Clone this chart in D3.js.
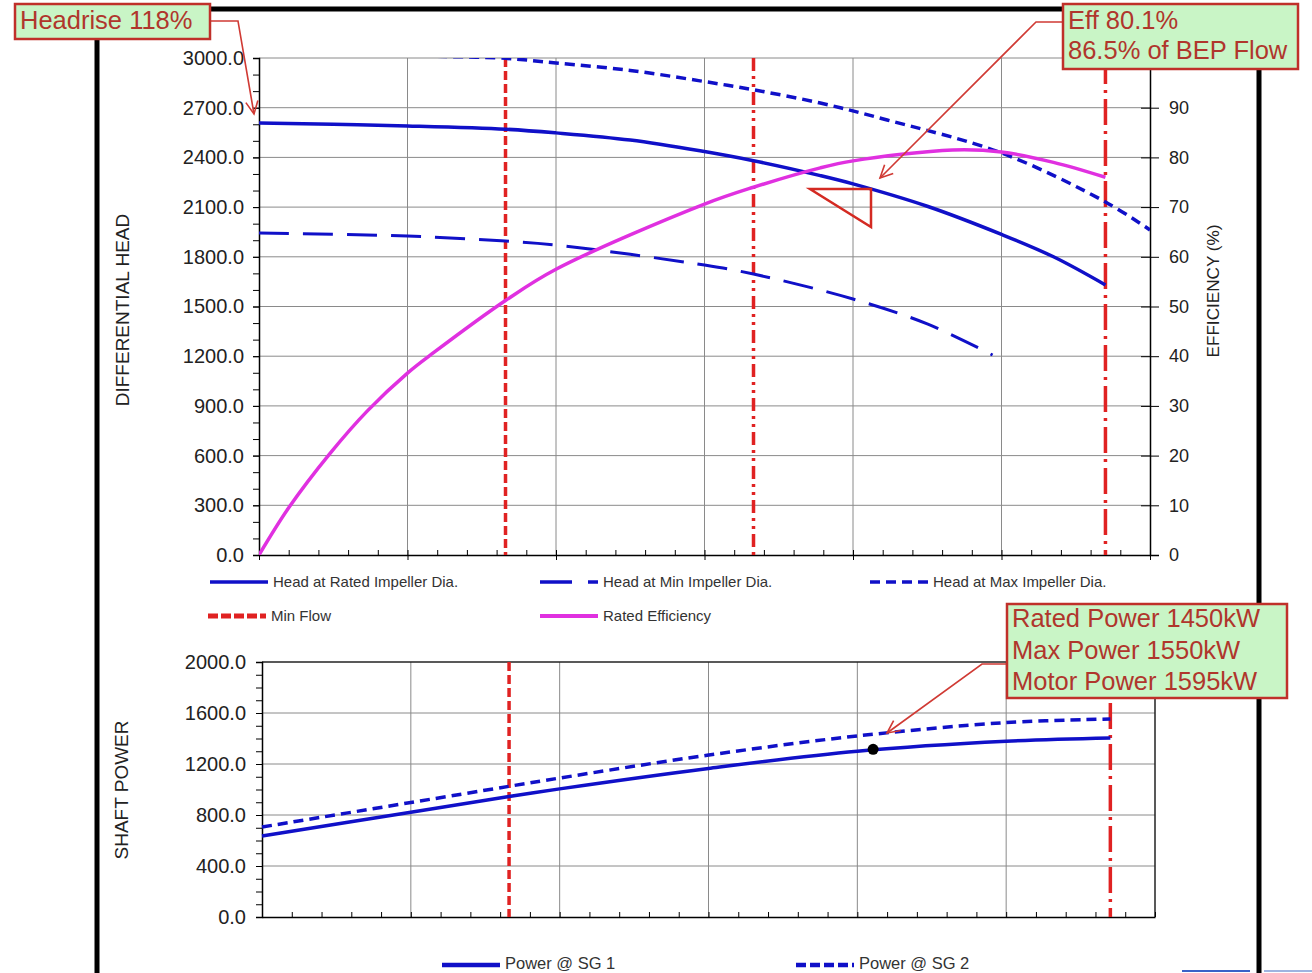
<!DOCTYPE html>
<html><head><meta charset="utf-8">
<script src="https://cdn.jsdelivr.net/npm/d3@7"></script>
<style>html,body{margin:0;padding:0;background:#fff;overflow:hidden}svg{display:block}text{font-family:"Liberation Sans",Arial,sans-serif}</style>
</head><body>
<svg id="c" width="1312" height="973"></svg>
<script>
// ---------- data ----------
const flowGrid = [0, 100, 200, 300, 400, 500, 600];
const headTicks = [0, 300, 600, 900, 1200, 1500, 1800, 2100, 2400, 2700, 3000];
const effTicks = [0, 10, 20, 30, 40, 50, 60, 70, 80, 90];
const powerTicks = [0, 400, 800, 1200, 1600, 2000];

const qRated = [0, 50, 100, 166, 200, 250, 297, 333, 378, 400, 450, 500, 535, 570];
const headRated = [2608, 2600, 2590, 2570, 2548, 2505, 2440, 2380, 2290, 2240, 2105, 1935, 1800, 1630];

const qMin = [0, 100, 166, 200, 300, 333, 400, 450, 494];
const headMin = [1944, 1925, 1895, 1871, 1750, 1696, 1545, 1395, 1207];

const qMax = [120, 166, 200, 250, 297, 333, 378, 423, 500, 570, 600];
const headMax = [3010, 2998, 2970, 2925, 2862, 2808, 2728, 2626, 2427, 2131, 1962];

const qEff = [0, 20, 48, 73, 100, 118, 166, 200, 300, 333, 378, 400, 467, 500, 535, 570];
const effRated = [0, 9.5, 20.5, 29, 36.6, 40.8, 51.2, 57.5, 70.6, 74.0, 77.9, 79.3, 81.5, 81.1, 79, 76];

const qPow = [0, 100, 166, 200, 300, 400, 500, 570];
const powerSG1 = [635, 822, 945, 1005, 1165, 1300, 1378, 1404];
const powerSG2 = [706, 898, 1025, 1090, 1270, 1420, 1525, 1553];
const ratedPoint = {q: 410.6, p: 1315};

const minFlowQ = 166, ratedQ = 333, endQ = 570;

const legendTop = ["Head at Rated Impeller Dia.", "Head at Min Impeller Dia.", "Head at Max Impeller Dia.", "Min Flow", "Rated Efficiency"];
const legendBottom = ["Power @ SG 1", "Power @ SG 2"];
const noteHead = ["Headrise 118%"];
const noteEff = ["Eff 80.1%", "86.5% of BEP Flow"];
const notePower = ["Rated Power 1450kW", "Max Power 1550kW", "Motor Power 1595kW"];

// ---------- styles ----------
const BLUE = "#1010c8", MAG = "#e030e0", RED = "#e02222", GRID = "#8a8a8a";
const BOXFILL = "#c9f5c6", BOXSTROKE = "#c0302a", NOTE = "#b0362c";

const svg = d3.select("#c");
const zip = (a, b) => a.map((v, i) => [v, b[i]]);
const CURVE = d3.curveCatmullRom.alpha(0.5);

// frame
svg.append("path").attr("d", "M97,973 L97,9 L1259,9 L1259,973").attr("fill", "none")
  .attr("stroke", "#000").attr("stroke-width", 5);

// ---------- top chart ----------
const xT = d3.scaleLinear([0, 600], [259, 1150]);
const yH = d3.scaleLinear([0, 3000], [555, 58]);
const yE = d3.scaleLinear([0, 100], [555, 58]);

const gTop = svg.append("g");
gTop.append("clipPath").attr("id", "clipTop").append("rect")
  .attr("x", 259).attr("y", 58).attr("width", 891).attr("height", 497);

gTop.selectAll(".hg").data(headTicks.slice(1)).join("line")
  .attr("x1", 259).attr("x2", 1150).attr("y1", d => yH(d)).attr("y2", d => yH(d))
  .attr("stroke", GRID).attr("stroke-width", 1);
gTop.selectAll(".vg").data(flowGrid.slice(1, -1)).join("line")
  .attr("x1", d => xT(d)).attr("x2", d => xT(d)).attr("y1", 58).attr("y2", 555)
  .attr("stroke", GRID).attr("stroke-width", 1);

const gL = gTop.append("g").attr("transform", "translate(259,0)")
  .call(d3.axisLeft(yH).tickValues(headTicks).tickFormat(d3.format(".1f")).tickSize(6).tickPadding(9));
gL.select(".domain").attr("stroke", "#000").attr("stroke-width", 1.5);
gL.selectAll("text").attr("font-size", 20).attr("fill", "#222");
gTop.append("g").attr("transform", "translate(259,0)")
  .call(d3.axisLeft(yH).tickValues(d3.range(0, 3001, 100)).tickFormat("").tickSize(6)).select(".domain").remove();

const gB = gTop.append("g").attr("transform", "translate(0,555)")
  .call(d3.axisBottom(xT).tickValues(d3.range(0, 601, 20)).tickFormat("").tickSizeInner(-5).tickSizeOuter(0));
gB.select(".domain").attr("stroke", "#000").attr("stroke-width", 1.5);
gTop.append("g").attr("transform", "translate(0,555)")
  .call(d3.axisBottom(xT).tickValues(flowGrid).tickFormat("").tickSize(5)).select(".domain").remove();

const gR = gTop.append("g").attr("transform", "translate(1150,0)")
  .call(d3.axisRight(yE).tickValues(effTicks).tickSize(9).tickPadding(10));
gR.select(".domain").attr("stroke", "#000").attr("stroke-width", 1.5);
gR.selectAll("text").attr("font-size", 18).attr("fill", "#222");
gR.selectAll(".tick line").attr("x1", -9);

const lineH = d3.line().x(d => xT(d[0])).y(d => yH(d[1])).curve(CURVE);
const lineE = d3.line().x(d => xT(d[0])).y(d => yE(d[1])).curve(CURVE);

const curves = gTop.append("g").attr("clip-path", "url(#clipTop)");

[{q: minFlowQ, dash: "9,4"}, {q: ratedQ, dash: "13,5,3,5,3,5"}, {q: endQ, dash: "26,6,3,6"}].forEach(v => {
  curves.append("line").attr("x1", xT(v.q)).attr("x2", xT(v.q)).attr("y1", 58).attr("y2", 555)
    .attr("stroke", RED).attr("stroke-width", 3.5).attr("stroke-dasharray", v.dash);
});

curves.append("path").attr("d", lineH(zip(qMin, headMin))).attr("fill", "none")
  .attr("stroke", BLUE).attr("stroke-width", 3).attr("stroke-dasharray", "30,14");
curves.append("path").attr("d", lineH(zip(qMax, headMax))).attr("fill", "none")
  .attr("stroke", BLUE).attr("stroke-width", 3.5).attr("stroke-dasharray", "10,6");
curves.append("path").attr("d", lineH(zip(qRated, headRated))).attr("fill", "none")
  .attr("stroke", BLUE).attr("stroke-width", 3.5);
curves.append("path").attr("d", lineE(zip(qEff, effRated))).attr("fill", "none")
  .attr("stroke", MAG).attr("stroke-width", 3.5);

gTop.append("path").attr("d", "M810,189 L871,189 L871,227 Z").attr("fill", "none")
  .attr("stroke", "#d42a22").attr("stroke-width", 2.5);

svg.append("text").attr("transform", "translate(129,310) rotate(-90)").attr("text-anchor", "middle")
  .attr("font-size", 19).attr("fill", "#222").text("DIFFERENTIAL HEAD");
svg.append("text").attr("transform", "translate(1219,291) rotate(-90)").attr("text-anchor", "middle")
  .attr("font-size", 16).attr("textLength", 133).attr("lengthAdjust", "spacingAndGlyphs")
  .attr("fill", "#222").text("EFFICIENCY (%)");

const legItems = [
  {x: 210, y: 582, dash: null, c: BLUE, t: legendTop[0], w: 3.5},
  {x: 540, y: 582, dash: "32,16,10", c: BLUE, t: legendTop[1], w: 3.5},
  {x: 870, y: 582, dash: "10,6", c: BLUE, t: legendTop[2], w: 3.5},
  {x: 208, y: 616, dash: "10,3", c: RED, t: legendTop[3], w: 5},
  {x: 540, y: 616, dash: null, c: MAG, t: legendTop[4], w: 4}
];
legItems.forEach(l => {
  svg.append("line").attr("x1", l.x).attr("x2", l.x + 58).attr("y1", l.y).attr("y2", l.y)
    .attr("stroke", l.c).attr("stroke-width", l.w).attr("stroke-dasharray", l.dash);
  svg.append("text").attr("x", l.x + 63).attr("y", l.y + 5).attr("font-size", 15).attr("fill", "#333").text(l.t);
});

// ---------- bottom chart ----------
const xB = d3.scaleLinear([0, 600], [262, 1155]);
const yP = d3.scaleLinear([0, 2000], [917, 662]);
const bot = svg.append("g");

bot.selectAll(".hg").data(powerTicks.slice(1, -1)).join("line")
  .attr("x1", 262).attr("x2", 1155).attr("y1", d => yP(d)).attr("y2", d => yP(d))
  .attr("stroke", GRID).attr("stroke-width", 1);
bot.selectAll(".vg").data(flowGrid.slice(1, -1)).join("line")
  .attr("x1", d => xB(d)).attr("x2", d => xB(d)).attr("y1", 662).attr("y2", 917)
  .attr("stroke", GRID).attr("stroke-width", 1);
bot.append("line").attr("x1", 262).attr("x2", 1155).attr("y1", 662).attr("y2", 662).attr("stroke", "#222").attr("stroke-width", 1.5);
bot.append("line").attr("x1", 1155).attr("x2", 1155).attr("y1", 662).attr("y2", 917).attr("stroke", "#222").attr("stroke-width", 1.5);

const gPL = bot.append("g").attr("transform", "translate(262,0)")
  .call(d3.axisLeft(yP).tickValues(powerTicks).tickFormat(d3.format(".1f")).tickSize(6).tickPadding(10));
gPL.select(".domain").attr("stroke", "#000").attr("stroke-width", 1.5);
gPL.selectAll("text").attr("font-size", 20).attr("fill", "#222");
bot.append("g").attr("transform", "translate(262,0)")
  .call(d3.axisLeft(yP).tickValues(d3.range(0, 2001, 100)).tickFormat("").tickSize(6)).select(".domain").remove();
const gPB = bot.append("g").attr("transform", "translate(0,917)")
  .call(d3.axisBottom(xB).tickValues(d3.range(0, 601, 20)).tickFormat("").tickSizeInner(-5).tickSizeOuter(0));
gPB.select(".domain").attr("stroke", "#000").attr("stroke-width", 1.5);

const lineP = d3.line().x(d => xB(d[0])).y(d => yP(d[1])).curve(CURVE);

[{q: minFlowQ, dash: "9,4"}, {q: endQ, dash: "26,6,3,6"}].forEach(v => {
  bot.append("line").attr("x1", xB(v.q)).attr("x2", xB(v.q)).attr("y1", 662).attr("y2", 917)
    .attr("stroke", RED).attr("stroke-width", 3.5).attr("stroke-dasharray", v.dash);
});
bot.append("path").attr("d", lineP(zip(qPow, powerSG2))).attr("fill", "none")
  .attr("stroke", BLUE).attr("stroke-width", 3.5).attr("stroke-dasharray", "10,6");
bot.append("path").attr("d", lineP(zip(qPow, powerSG1))).attr("fill", "none")
  .attr("stroke", BLUE).attr("stroke-width", 3.5);
bot.append("circle").attr("cx", xB(ratedPoint.q)).attr("cy", yP(ratedPoint.p)).attr("r", 5.5).attr("fill", "#000");

svg.append("text").attr("transform", "translate(128,790) rotate(-90)").attr("text-anchor", "middle")
  .attr("font-size", 19).attr("fill", "#222").text("SHAFT POWER");

[{x: 442, dash: null, t: legendBottom[0]}, {x: 796, dash: "10,4", t: legendBottom[1]}].forEach(l => {
  svg.append("line").attr("x1", l.x).attr("x2", l.x + 58).attr("y1", 965).attr("y2", 965)
    .attr("stroke", BLUE).attr("stroke-width", 4.5).attr("stroke-dasharray", l.dash);
  svg.append("text").attr("x", l.x + 63).attr("y", 969).attr("font-size", 16.5).attr("fill", "#333").text(l.t);
});

svg.append("line").attr("x1", 1182).attr("x2", 1250).attr("y1", 971).attr("y2", 971).attr("stroke", "#3a62c8").attr("stroke-width", 2);
svg.append("line").attr("x1", 1264).attr("x2", 1312).attr("y1", 971).attr("y2", 971).attr("stroke", "#9fb4e0").attr("stroke-width", 2);

// ---------- annotations ----------
function arrowHead(g, ax, ay, bx, by) {
  const a = Math.atan2(by - ay, bx - ax), L = 14, s = 0.45;
  const p1 = [bx - L * Math.cos(a - s), by - L * Math.sin(a - s)];
  const p2 = [bx - L * Math.cos(a + s), by - L * Math.sin(a + s)];
  g.append("path").attr("d", `M${p1} L${bx},${by} L${p2}`).attr("fill", "none")
    .attr("stroke", "#d03a34").attr("stroke-width", 1.6);
}
function note(lines, bx, by, bw, bh, fs, lh, top0, conn) {
  const g = svg.append("g");
  g.append("path").attr("d", d3.line()(conn)).attr("fill", "none").attr("stroke", "#d03a34").attr("stroke-width", 1.6);
  const n = conn.length;
  arrowHead(g, conn[n - 2][0], conn[n - 2][1], conn[n - 1][0], conn[n - 1][1]);
  g.append("rect").attr("x", bx).attr("y", by).attr("width", bw).attr("height", bh)
    .attr("fill", BOXFILL).attr("stroke", BOXSTROKE).attr("stroke-width", 2.5);
  lines.forEach((t, i) => g.append("text").attr("x", bx + 5).attr("y", top0 + i * lh)
    .attr("font-size", fs).attr("fill", NOTE).text(t));
}
note(noteHead, 15, 4, 195, 35, 25.5, 0, 29, [[210, 21], [238, 21], [254, 114]]);
note(noteEff, 1063, 4, 235, 65, 25.5, 30, 29, [[1063, 22], [1036, 22], [880, 178]]);
note(notePower, 1007, 604, 280, 94, 25.5, 31.5, 627, [[1007, 664], [982, 664], [887, 733]]);
</script>
</body></html>
